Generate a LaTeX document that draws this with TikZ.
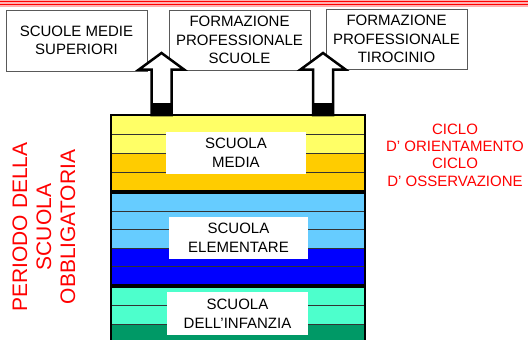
\documentclass[tikz,border=0pt]{standalone}
\usepackage{fontspec}
\setmainfont{Liberation Sans}
\usetikzlibrary{positioning, calc}
\definecolor{stripe yellow}{HTML}{FFFF66}
\definecolor{stripe orange}{HTML}{FFCC00}
\definecolor{stripe sky}{HTML}{66CCFF}
\definecolor{stripe blue}{HTML}{0000FF}
\definecolor{stripe aqua}{HTML}{4DFFCC}
\definecolor{stripe green}{HTML}{009966}
\definecolor{rule pink}{HTML}{FFB0B0}

\begin{document}
\begin{tikzpicture}[x=1pt,y=-1pt, outbox/.style={shape=rectangle, draw=black!65, line width=0.8pt, align=center, minimum width=141pt, minimum height=60pt, inner sep=0pt, font=\fontsize{15}{18.5}\selectfont}, schoolname/.style={shape=rectangle, fill=white, align=center, minimum width=140pt, minimum height=42pt, inner sep=0pt, font=\fontsize{15}{19}\selectfont}, stripe/.style={draw=black!80, line width=0.8pt}, stackframe/.style={draw=black, line width=2.5pt}, blockarrow/.style={draw=black, fill=white, line width=2.5pt, line join=miter}, rednote/.style={text=red, align=center, inner sep=0pt}]
\useasboundingbox (0,0) rectangle (528,340);
\fill[rule pink] (0,0) rectangle (528,6.5);
\draw[red, line width=1pt] (0,1) -- (528,1);
\draw[red, line width=1pt] (0,4) -- (528,4);
\node[outbox, minimum height=61pt] (superiori) at (76.5,40.5) {SCUOLE MEDIE\\SUPERIORI};
\node[outbox] (scuole) at (239.5,40) {FORMAZIONE\\PROFESSIONALE\\SCUOLE};
\node[outbox] (tirocinio) at (396.5,39) {FORMAZIONE\\PROFESSIONALE\\TIROCINIO};
\foreach \top/\h/\col in {115/19/stripe yellow, 134/19/stripe yellow, 153/19/stripe orange, 172/19.5/stripe orange, 192.5/18.5/stripe sky, 211/18.5/stripe sky, 229.5/18.5/stripe sky, 248/18.5/stripe blue, 266.5/18.5/stripe blue, 286.5/18.8/stripe aqua, 305.3/18.7/stripe aqua, 324/19/stripe green} {
	\draw[stripe, fill=\col] (111,\top) rectangle ++(254,\h);
}
\foreach \top/\bot in {115/191.5, 192.5/285.5, 286.5/343} {
	\draw[stackframe] (111,\top) rectangle (365,\bot);
}
\node[schoolname] (media) at (236,153) {SCUOLA\\MEDIA};
\node[schoolname, minimum width=139pt] (elementare) at (238.5,238) {SCUOLA\\ELEMENTARE};
\node[schoolname, minimum width=141pt, minimum height=43pt] (infanzia) at (237.5,313.5) {SCUOLA\\DELL'INFANZIA};
\coordinate (stack top) at (238,115);
\foreach \i/\x in {1/161.5, 2/323} {
	\coordinate (foot \i) at (\x,115);
	\coordinate (tip \i) at (\x,53);
	\draw[blockarrow] ($(foot \i)+(-10,0)$) -- ($(tip \i)+(-10,16.5)$) -- ($(tip \i)+(-22.5,16.5)$) -- (tip \i) -- ($(tip \i)+(22.5,16.5)$) -- ($(tip \i)+(10,16.5)$) -- ($(foot \i)+(10,0)$) -- cycle;
	\fill ($(foot \i)+(-11,0)$) rectangle ($(foot \i)+(11,-12)$);
}
\node[rednote, rotate=90, font=\fontsize{21}{24}\selectfont] (periodo) at (44,227) {PERIODO DELLA\\SCUOLA\\OBBLIGATORIA};
\node[rednote, font=\fontsize{15}{17.4}\selectfont] (cicli) at (455,155) {CICLO\\D' ORIENTAMENTO\\CICLO\\D' OSSERVAZIONE};
\end{tikzpicture}
\end{document}
